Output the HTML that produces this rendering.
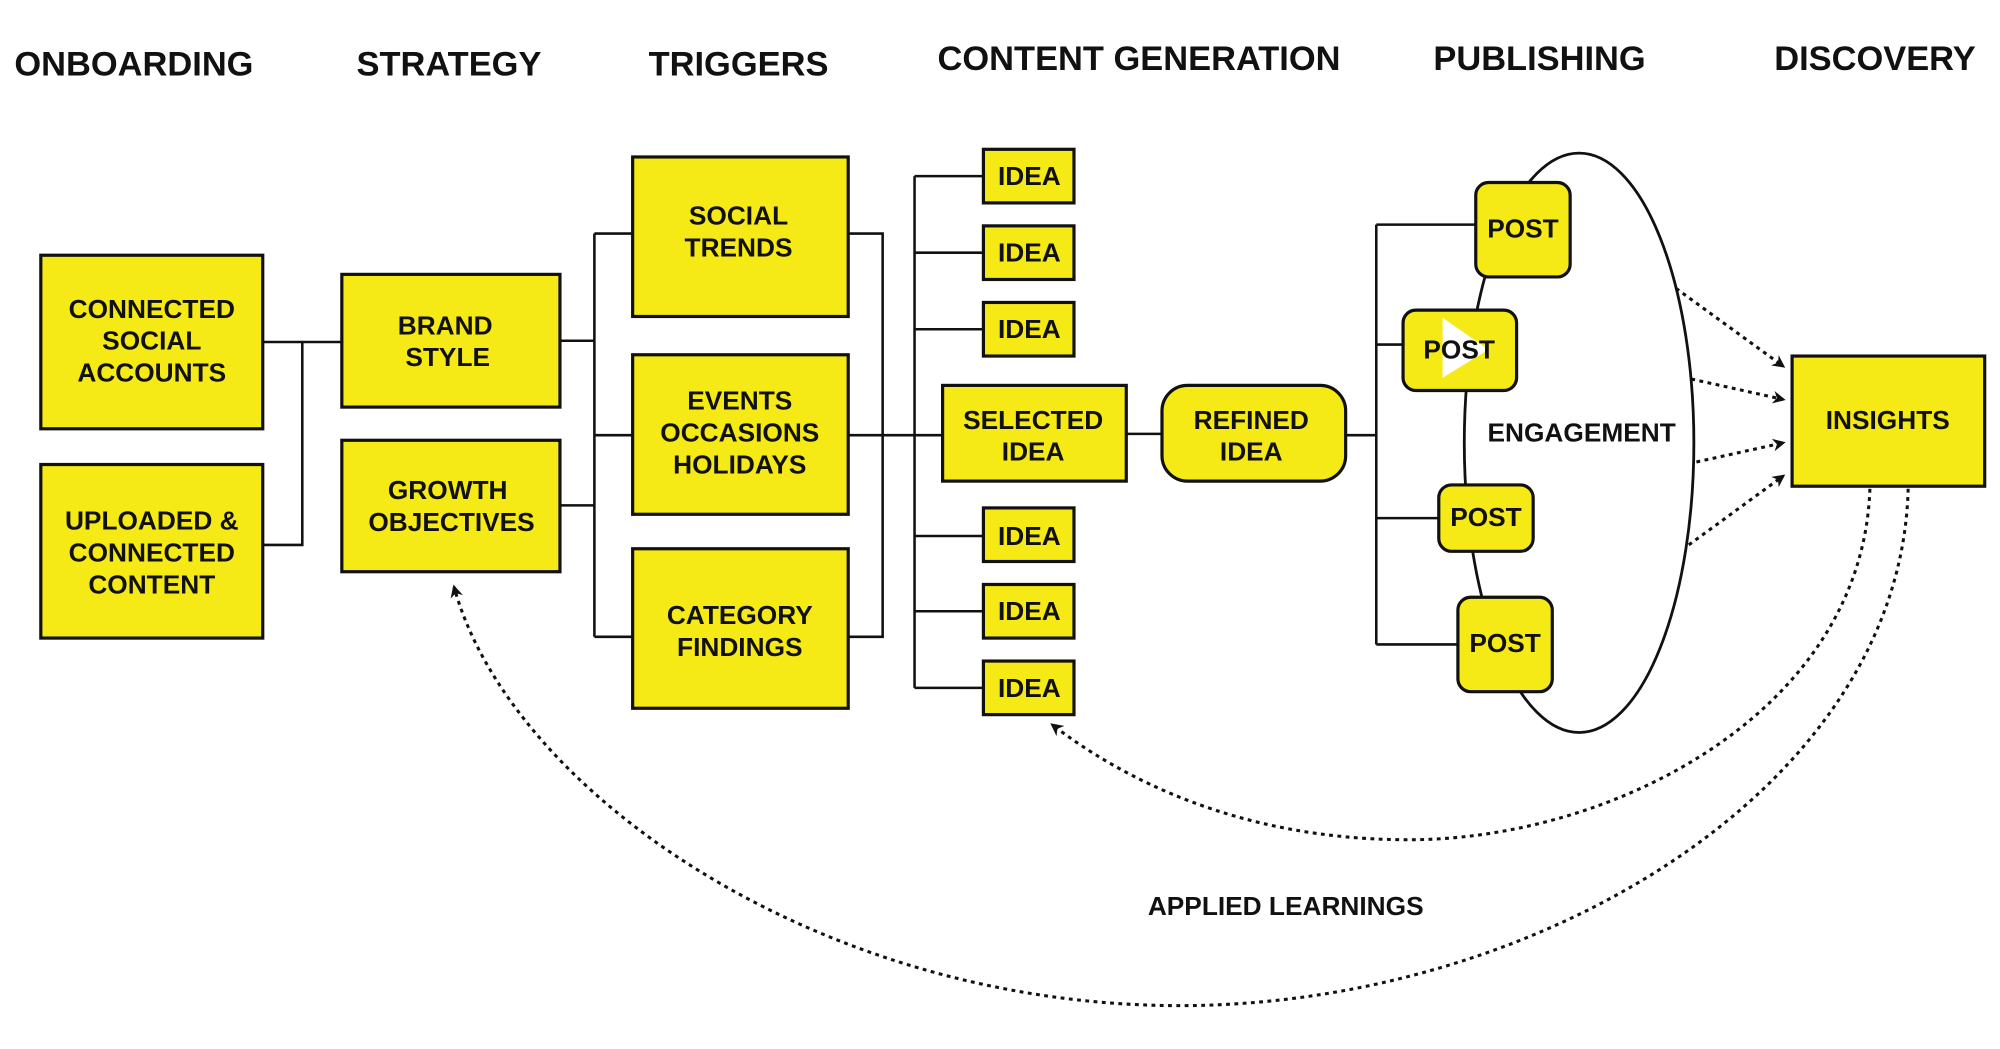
<!DOCTYPE html>
<html><head><meta charset="utf-8"><style>
html,body{margin:0;padding:0;background:#fff;width:2000px;height:1049px;overflow:hidden}
svg{display:block}
text{font-family:"Liberation Sans",Arial,sans-serif;font-weight:bold;fill:#111;text-anchor:middle}
.h{font-size:27px}
.b{font-size:20.6px}
.box{fill:#F5E916;stroke:#111;stroke-width:2.5}
.ln{stroke:#111;stroke-width:2;fill:none}
.dt{stroke:#111;stroke-width:2.4;fill:none;stroke-dasharray:3 3.5}
</style></head><body>
<svg width="2000" height="1049" viewBox="0 0 1568 822" preserveAspectRatio="none" xmlns="http://www.w3.org/2000/svg">
<defs><marker id="a" markerWidth="10" markerHeight="10" refX="8" refY="5" orient="auto" markerUnits="userSpaceOnUse"><path d="M0,0 L10,5 L0,10 L3,5 z" fill="#111"/></marker></defs>
<text class="h" x="105" y="59">ONBOARDING</text>
<text class="h" x="352" y="59">STRATEGY</text>
<text class="h" x="579" y="59">TRIGGERS</text>
<text class="h" x="893" y="55">CONTENT GENERATION</text>
<text class="h" x="1207" y="55">PUBLISHING</text>
<text class="h" x="1470" y="55">DISCOVERY</text>

<path class="ln" d="M206,268 H268 M206,427 H237 V268"/>
<path class="ln" d="M439,267 H466 M439,396 H466 M466,183 V499 M466,183 H496 M466,341 H496 M466,499 H496"/>
<path class="ln" d="M665,183 H692 V499 H665 M665,341 H739 M717,138 V539 M717,138 H771 M717,198 H771 M717,258 H771 M717,420 H771 M717,479 H771 M717,539 H771"/>
<path class="ln" d="M883,340 H911 M1055,341 H1079 M1079,176 V505 M1079,176 H1157 M1079,270 H1100 M1079,406 H1128 M1079,505 H1143"/>

<ellipse cx="1238" cy="347" rx="90" ry="227" fill="none" stroke="#111" stroke-width="2.2"/>

<rect class="box" x="32" y="200" width="174" height="136"/>
<text class="b" x="119" y="249">CONNECTED</text><text class="b" x="119" y="274">SOCIAL</text><text class="b" x="119" y="299">ACCOUNTS</text>
<rect class="box" x="32" y="364" width="174" height="136"/>
<text class="b" x="119" y="415">UPLOADED &amp;</text><text class="b" x="119" y="440">CONNECTED</text><text class="b" x="119" y="465">CONTENT</text>

<rect class="box" x="268" y="215" width="171" height="104"/>
<text class="b" x="349" y="262">BRAND</text><text class="b" x="351" y="287">STYLE</text>
<rect class="box" x="268" y="345" width="171" height="103"/>
<text class="b" x="351" y="391">GROWTH</text><text class="b" x="354" y="416">OBJECTIVES</text>

<rect class="box" x="496" y="123" width="169" height="125"/>
<text class="b" x="579" y="176">SOCIAL</text><text class="b" x="579" y="201">TRENDS</text>
<rect class="box" x="496" y="278" width="169" height="125"/>
<text class="b" x="580" y="321">EVENTS</text><text class="b" x="580" y="346">OCCASIONS</text><text class="b" x="580" y="371">HOLIDAYS</text>
<rect class="box" x="496" y="430" width="169" height="125"/>
<text class="b" x="580" y="489">CATEGORY</text><text class="b" x="580" y="514">FINDINGS</text>

<g>
<rect class="box" x="771" y="117" width="71" height="42"/><text class="b" x="807" y="145">IDEA</text>
<rect class="box" x="771" y="177" width="71" height="42"/><text class="b" x="807" y="205">IDEA</text>
<rect class="box" x="771" y="237" width="71" height="42"/><text class="b" x="807" y="265">IDEA</text>
<rect class="box" x="771" y="398" width="71" height="42"/><text class="b" x="807" y="427">IDEA</text>
<rect class="box" x="771" y="458" width="71" height="42"/><text class="b" x="807" y="486">IDEA</text>
<rect class="box" x="771" y="518" width="71" height="42"/><text class="b" x="807" y="546">IDEA</text>
</g>
<rect class="box" x="739" y="302" width="144" height="75"/>
<text class="b" x="810" y="336">SELECTED</text><text class="b" x="810" y="361">IDEA</text>
<rect class="box" x="911" y="302" width="144" height="75" rx="20"/>
<text class="b" x="981" y="336">REFINED</text><text class="b" x="981" y="361">IDEA</text>

<rect class="box" x="1157" y="143" width="74" height="74" rx="10"/><text class="b" x="1194" y="186">POST</text>
<rect class="box" x="1100" y="243" width="89" height="63" rx="10"/>
<path d="M1131,249 L1167,274 L1131,296 z" fill="#fff"/>
<text class="b" x="1144" y="281">POST</text>
<rect class="box" x="1128" y="380" width="74" height="52" rx="10"/><text class="b" x="1165" y="412">POST</text>
<rect class="box" x="1143" y="468" width="74" height="74" rx="10"/><text class="b" x="1180" y="511">POST</text>
<text class="b" x="1240" y="346">ENGAGEMENT</text>

<rect class="box" x="1405" y="279" width="151" height="102"/>
<text class="b" x="1480" y="336">INSIGHTS</text>

<path class="dt" d="M1314,226 L1398,287" marker-end="url(#a)"/>
<path class="dt" d="M1326,297 L1398,313" marker-end="url(#a)"/>
<path class="dt" d="M1330,362 L1398,347" marker-end="url(#a)"/>
<path class="dt" d="M1324,427 L1398,373" marker-end="url(#a)"/>
<path class="dt" d="M1466,383 C1460,560 1260,660 1100,658 C970,657 880,610 825,568" marker-end="url(#a)"/>
<path class="dt" d="M1496,383 C1490,620 1200,790 920,788 C640,786 400,620 356,460" marker-end="url(#a)"/>
<text class="b" x="1008" y="717">APPLIED LEARNINGS</text>
</svg>
</body></html>
